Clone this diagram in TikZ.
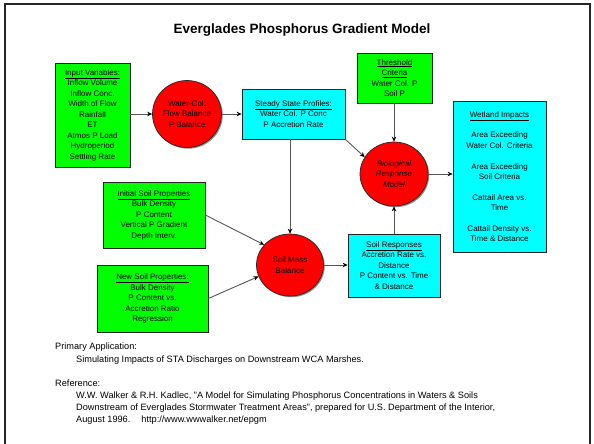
\documentclass[tikz,border=0pt]{standalone}
\usepackage{fontspec}
\setmainfont{Liberation Sans}
\usetikzlibrary{shapes.geometric,arrows.meta}
\definecolor{boxgreen}{HTML}{00FF00}
\definecolor{boxcyan}{HTML}{00FFFF}
\definecolor{ballred}{HTML}{FF0000}
\definecolor{wire}{HTML}{555555}
% underline that keeps the normal line spacing
\newcommand\hdr[1]{\smash{\underline{#1}}\vphantom{#1}}
\tikzset{
  base/.style={draw=black!85, line width=0.7pt, align=center, inner sep=1pt,
    font=\fontsize{8}{10.5}\selectfont},
  shade/.style={preaction={fill=black!45, transform canvas={shift={(1.2pt,-1.2pt)}}}},
  greenbox/.style={base, shade, rectangle, fill=boxgreen},
  cyanbox/.style={base, shade, rectangle, fill=boxcyan},
  ball/.style={base, shade, ellipse, fill=ballred, inner sep=0pt},
  arr/.style={draw=wire, line width=0.9pt, -{Stealth[length=5pt,width=4.5pt,black]}},
  note/.style={anchor=west, inner sep=0pt, font=\fontsize{9.2}{11.6}\selectfont}
}
\begin{document}
\begin{tikzpicture}[x=1pt, y=-1pt]
\useasboundingbox (0,0) rectangle (594,444);
% page frame
\draw[line width=2pt, black!85] (5,460) -- (5,4) -- (590,4) -- (590,460);

\node[font=\bfseries\fontsize{13.5}{15}\selectfont] (title) at (302,30) {Everglades Phosphorus Gradient Model};

% inputs and state blocks
\node[greenbox, minimum width=75pt, minimum height=104pt] (inputs) at (92.5,115)
  {\hdr{Input Variables:}\\Inflow Volume\\Inflow Conc.\\Width of Flow\\Rainfall\\ET\\Atmos P Load\\Hydroperiod\\Settling Rate};
\node[ball, minimum width=69pt, minimum height=67pt] (water) at (187,114)
  {Water-Col.\\Flow Balance\\P Balance};
\node[cyanbox, minimum width=103pt, minimum height=50pt] (steady) at (293.5,114)
  {\hdr{Steady State Profiles:}\\Water Col. P Conc\\P Accretion Rate};
\node[greenbox, minimum width=75pt, minimum height=50pt] (thresh) at (394.5,78)
  {\hdr{Threshold}\\\hdr{Criteria}\\Water Col. P\\Soil P};
\node[ball, minimum width=68pt, minimum height=64pt] (bio) at (394,174)
  {\itshape Biological\\\itshape Response\\\itshape Model};
\node[cyanbox, minimum width=93pt, minimum height=151pt, font=\fontsize{8}{10.3}\selectfont] (wetland) at (499.5,176.5)
  {\hdr{Wetland Impacts}\\[10.5pt]Area Exceeding\\Water Col. Criteria\\[10.5pt]Area Exceeding\\Soil Criteria\\[10.5pt]Cattail Area vs.\\Time\\[10.5pt]Cattail Density vs.\\Time \& Distance};
\node[greenbox, minimum width=102pt, minimum height=66pt] (initsoil) at (154,215)
  {\hdr{Initial Soil Properties}\\Bulk Density\\P Content\\Vertical P Gradient\\Depth Interv.};
\node[greenbox, minimum width=111pt, minimum height=67pt] (newsoil) at (152.5,298.5)
  {\hdr{New Soil Properties:}\\Bulk Density\\P Content vs.\\Accretion Ratio\\Regression};
\node[ball, minimum width=67pt, minimum height=62pt] (soilmass) at (290,265)
  {Soil Mass\\Balance};
\node[cyanbox, minimum width=92pt, minimum height=63pt] (soilresp) at (394,265.5)
  {\hdr{Soil Responses}\\Accretion Rate vs.\\Distance\\P Content vs. Time\\\& Distance};

% connectors
\draw[arr] (water.west -| inputs.east) -- (water.west);
\draw[arr] (water.east) -- (water.east -| steady.west);
\draw[arr] (soilmass.north |- steady.south) -- (soilmass.north);
\draw[arr] (steady.south east) -- (bio.150);
\draw[arr] (thresh.south -| bio.north) -- (bio.north);
\draw[arr] (bio.east) -- (bio.east -| wetland.west);
\draw[arr] (soilresp.north -| bio.south) -- (bio.south);
\draw[arr] (initsoil.east) -- (soilmass.142);
\draw[arr] (newsoil.east) -- (soilmass.200);
\draw[arr] (soilmass.east) -- (soilmass.east -| soilresp.west);

% notes below the chart
\node[note] (apphead) at (55,347) {Primary Application:};
\node[note] (apptext) at (76,360) {Simulating Impacts of STA Discharges on Downstream WCA Marshes.};
\node[note] (refhead) at (55,383) {Reference:};
\node[note, anchor=north west, align=left] (reftext) at (76,392)
  {W.W. Walker \& R.H. Kadlec, "A Model for Simulating Phosphorus Concentrations in Waters \& Soils\\
   Downstream of Everglades Stormwater Treatment Areas", prepared for U.S. Department of the Interior,\\
   August 1996.\hspace{1.2em}http://www.wwwalker.net/epgm};
\end{tikzpicture}
\end{document}
